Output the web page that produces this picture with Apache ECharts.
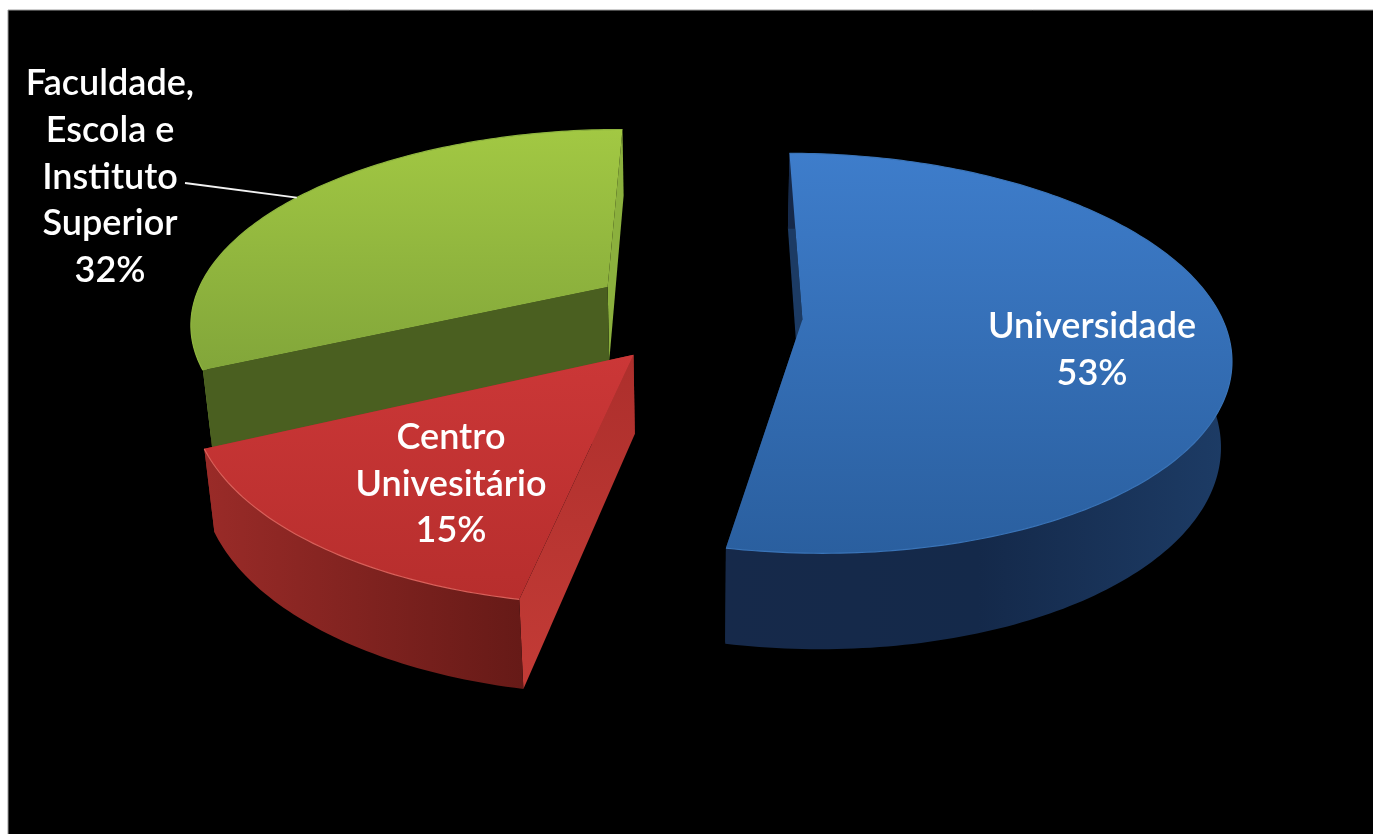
<!DOCTYPE html>
<html><head><meta charset="utf-8">
<style>html,body{margin:0;padding:0;background:#fff}#chart{width:1373px;height:834px}</style>
<script src="https://cdn.jsdelivr.net/npm/echarts@6/dist/echarts.min.js"></script>
</head><body><div id="chart"></div>
<script>
// Share of institutions by type, drawn as an exploded 3D pie
const categories = ['Universidade', 'Centro\nUnivesitário', 'Faculdade,\nEscola e\nInstituto\nSuperior'];
const shares = [53, 15, 32];
const explode = [0.2413, 0.255, 0.2734];
const discHeight = [0.232, 0.2118, 0.206];

// Camera used to project the disc onto the canvas
const cam = { tilt: 0.4788, dist: 5.2641, focal: 2202.16, cx: 701.58, cy: 314.81 };
const firstAngle = 0.2566;

const palette = [
  { top: ['#3e7dcb', '#2a5f9f'], rim: ['#16294a', '#14294a', '#1d3c66'], edge: '#3a74b8', cut: '#1c3b64', cut2: '#1c3b64' },
  { top: ['#cb3737', '#b72e2d'], rim: ['#9a2b28', '#661a17'], edge: '#d9605a', cut: '#ad2f2c', cut2: '#c33b36' },
  { top: ['#a2c843', '#82a63a'], rim: ['#7fa43a', '#7fa43a'], edge: '#8fb53f', cut: '#8bb03d', cut2: '#4a5f20' }
];
const labelAt = [[1092, 350], [451, 484], [110, 177]];
const leader = { from: [185, 183], angle: 302 };
const drawOrder = [2, 1, 0];
// The green wall is seen only on its outer left shoulder
const shoulderSweep = 26;

const toRad = d => d * Math.PI / 180;
function project(X, Y, Z) {
  const c = Math.cos(cam.tilt), s = Math.sin(cam.tilt);
  const w = cam.dist + Y * c - Z * s;
  return [cam.cx + cam.focal * X / w, cam.cy - cam.focal * (Y * s + Z * c) / w];
}
function sweep(i) {
  let start = firstAngle;
  for (let k = 0; k < i; k++) start += shares[k] * 3.6;
  return [start, start + shares[i] * 3.6];
}
function point(i, deg, r, low) {
  const [a, b] = sweep(i), m = toRad((a + b) / 2), e = explode[i];
  return project(e * Math.sin(m) + r * Math.sin(toRad(deg)),
                 e * Math.cos(m) + r * Math.cos(toRad(deg)), low ? -discHeight[i] : 0);
}
function arc(i, low, from, to) {
  const pts = [], n = Math.ceil(to - from);
  for (let k = 0; k <= n; k++) pts.push(point(i, from + (to - from) * k / n, 1, low));
  return pts;
}
const G = echarts.graphic;
const vgrad = c => new G.LinearGradient(0, 0, 0, 1, c.map((col, j) => ({ offset: j / (c.length - 1), color: col })));
const hgrad = c => new G.LinearGradient(0, 0, 1, 0, c.map((col, j) => ({ offset: j / (c.length - 1), color: col })));
const poly = (points, fill) => ({ type: 'polygon', shape: { points }, style: { fill, stroke: null } });

function renderSlice(params, api) {
  const i = api.value(0), pct = api.value(1), col = palette[i];
  const [a, b] = sweep(i);
  const top = arc(i, false, a, b);
  const apex = point(i, 0, 0, false), apexLow = point(i, 0, 0, true);
  const sTop = point(i, a, 1, false), sLow = point(i, a, 1, true);
  const eTop = point(i, b, 1, false), eLow = point(i, b, 1, true);
  const endFace = poly([apex, eTop, eLow, apexLow], i === 1 ? col.rim[0] : col.cut);
  const startFace = poly([apex, sTop, sLow, apexLow],
    i === 2 ? col.cut2 : vgrad([col.cut, col.cut2]));
  const rimPoints = i === 2
    ? arc(i, false, a, a + shoulderSweep).concat([sLow])
    : top.concat(arc(i, true, a, b).reverse());
  const rim = poly(rimPoints, hgrad(col.rim));
  const faces = i === 2 ? [endFace, rim, startFace] : [endFace, startFace, rim];
  const children = faces.concat([
    poly([apex].concat(top), vgrad(col.top)),
    { type: 'polyline', shape: { points: top }, style: { fill: null, stroke: col.edge, lineWidth: 1.2 } }
  ]);
  if (i === 2) {
    children.push({ type: 'polyline', shape: { points: [leader.from, point(i, leader.angle, 1, false)] },
      style: { fill: null, stroke: '#f2f2f2', lineWidth: 2 } });
  }
  children.push({ type: 'text', style: {
    text: categories[i] + '\n' + pct + '%', x: labelAt[i][0], y: labelAt[i][1],
    align: 'center', verticalAlign: 'middle', lineHeight: 46.7,
    font: '600 36px Lato, sans-serif', fill: '#ffffff' } });
  return { type: 'group', children };
}

const chart = echarts.init(document.getElementById('chart'), null, { renderer: 'canvas' });
chart.setOption({
  animation: false,
  backgroundColor: '#ffffff',
  graphic: [{ type: 'rect', z: -1, shape: { x: 8, y: 10, width: 1400, height: 860 },
    style: { fill: '#000000', stroke: '#9a9a9a', lineWidth: 1 } }],
  series: [{
    type: 'custom',
    coordinateSystem: 'none',
    renderItem: renderSlice,
    data: drawOrder.map(i => [i, shares[i]])
  }]
});
</script></body></html>
